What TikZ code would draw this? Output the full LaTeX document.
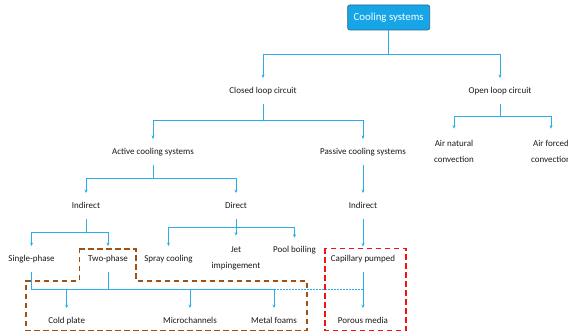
\documentclass[tikz,border=0pt]{standalone}
\usepackage{fontspec}
\setmainfont{Carlito}
\usetikzlibrary{arrows.meta}
\definecolor{lineblue}{RGB}{41,174,235}
\definecolor{boxblue}{RGB}{22,165,230}
\definecolor{boxedge}{RGB}{40,100,140}
\definecolor{brownd}{RGB}{160,82,20}
\definecolor{redd}{RGB}{240,20,20}
\tikzset{
  lbl/.style={font=\fontsize{9}{10.5}\selectfont, text=black!90, inner xsep=2pt, inner ysep=9pt, text height=6pt, text depth=1.5pt, align=center},
  lbltwo/.style={font=\fontsize{9}{16.3}\selectfont, text=black!90, inner xsep=2pt, inner ysep=11pt, align=center},
  topbox/.style={font=\fontsize{10.8}{12}\selectfont, text=white, fill=boxblue, draw=boxedge, rounded corners=2pt, minimum width=82pt, minimum height=25pt, line width=0.6pt},
  conn/.style={draw=lineblue, line width=0.8pt},
  arr/.style={conn, -{Stealth[length=3.5pt,width=3pt]}},
  dotconn/.style={draw=lineblue, line width=1pt, dash pattern=on 1.5pt off 1.5pt},
  browndash/.style={draw=brownd, line width=1.6pt, dash pattern=on 5.5pt off 3.5pt},
  reddash/.style={draw=redd, line width=1.6pt, dash pattern=on 5.5pt off 3.5pt}
}
\begin{document}
\begin{tikzpicture}[x=1pt,y=-1pt]
\useasboundingbox (0,0) rectangle (568,334);
\clip (0,0) rectangle (568,334);
% nodes
\node[topbox] (cool) at (388.7,17.5) {Cooling systems};
\node[lbl] (closed) at (263,91) {Closed loop circuit};
\node[lbl] (open) at (500,91) {Open loop circuit};
\node[lbl] (active) at (153,152) {Active cooling systems};
\node[lbl] (passive) at (363,152) {Passive cooling systems};
\node[lbltwo] (airnat) at (454,151.2) {Air natural\\convection};
\node[lbltwo] (airfor) at (551,151.2) {Air forced\\convection};
\node[lbl] (indA) at (86,206) {Indirect};
\node[lbl] (direct) at (236,206) {Direct};
\node[lbl] (indP) at (363,206) {Indirect};
\node[lbl] (single) at (31.5,259) {Single-phase};
\node[lbl] (two) at (108,259) {Two-phase};
\node[lbl] (spray) at (168.5,259) {Spray cooling};
\node[lbltwo] (jet) at (236,258.6) {Jet\\impingement};
\node[lbl] (pool) at (294.5,250.7) {Pool boiling};
\node[lbl] (capil) at (363,259.5) {Capillary pumped};
\node[lbl] (cold) at (66.7,321) {Cold plate};
\node[lbl] (micro) at (190,321) {Microchannels};
\node[lbl] (metal) at (274,321) {Metal foams};
\node[lbl] (porous) at (363,321) {Porous media};
% junction coordinates
\coordinate (j0) at (388.7,54);
\coordinate (j1) at (263,120.7);
\coordinate (j2) at (500,116);
\coordinate (j3) at (153,178);
\coordinate (j4) at (86,232.7);
\coordinate (j5) at (236,227);
\coordinate (hbR) at (274,289.5);
% connectors
\draw[conn] (cool) -- (j0);
\draw[arr] (j0) -| (closed);
\draw[arr] (j0) -| (open);
\draw[conn] (closed) -- (j1);
\draw[arr] (j1) -| (active);
\draw[arr] (j1) -| (passive);
\draw[conn] (open) -- (j2);
\draw[arr] (j2) -| (airnat);
\draw[arr] (j2) -| (airfor);
\draw[conn] (active) -- (j3);
\draw[arr] (j3) -| (indA);
\draw[arr] (j3) -| (direct);
\draw[arr] (passive) -- (indP);
\draw[conn] (indA) -- (j4);
\draw[arr] (j4) -| (single);
\draw[arr] (j4) -| (two);
\draw[conn] (direct) -- (j5);
\draw[arr] (j5) -| (spray);
\draw[arr] (j5) -- (jet);
\draw[arr] (j5) -| (pool);
\draw[arr] (indP) -- (capil);
\draw[conn] (single) |- (hbR);
\draw[conn] (two) -- (two |- hbR);
\draw[arr] (cold |- hbR) -- (cold);
\draw[arr] (micro |- hbR) -- (micro);
\draw[arr] (hbR) -- (metal);
\draw[dotconn] (hbR) -- (capil |- hbR);
\draw[arr] (capil) -- (porous);
% dashed groups
\draw[browndash] (79.3,249) -- (136,249) -- (136,280.7) -- (306.7,280.7) -- (306.7,330.5) -- (26,330.5) -- (26,280.7) -- (79.3,280.7) -- cycle;
\draw[reddash] (325,248.3) rectangle (406,330.5);
\end{tikzpicture}
\end{document}
